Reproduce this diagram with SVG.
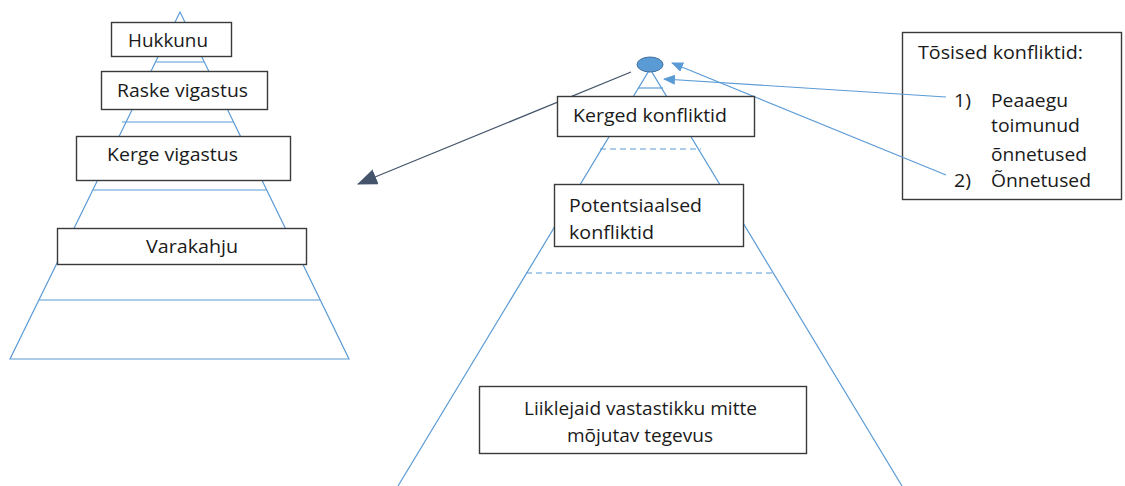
<svg xmlns="http://www.w3.org/2000/svg" width="1125" height="486" viewBox="0 0 1125 486">
<style>
.pl{fill:none;stroke:#5B9BD5;stroke-width:1.2}
.ds{fill:none;stroke:#5B9BD5;stroke-width:1.2;stroke-dasharray:6 4}
.bx{fill:#fff;stroke:#3a3a3a;stroke-width:1.4}
.t{font-family:"Open Sans","Liberation Sans",sans-serif;font-size:17.5px;fill:#1a1a1a}
.cg{fill:none;stroke:#44546A;stroke-width:1.3}
.cb{fill:none;stroke:#5B9BD5;stroke-width:1.2}
</style>
<defs>
<marker id="ag" markerUnits="userSpaceOnUse" viewBox="0 0 20 16" markerWidth="20" markerHeight="16" refX="19" refY="8" orient="auto">
<path d="M0,0 L20,8 L0,16 z" fill="#44546A"/>
</marker>
<marker id="ab" markerUnits="userSpaceOnUse" viewBox="0 0 12 10" markerWidth="12" markerHeight="10" refX="11" refY="5" orient="auto">
<path d="M0,0 L12,5 L0,10 z" fill="#5B9BD5"/>
</marker>
</defs>
<rect width="1125" height="486" fill="#fff"/>
<g id="pyramid-left">
<polygon class="pl" points="180,12 10,359 349,359"/>
<line class="pl" x1="156" y1="62" x2="204" y2="62"/>
<line class="pl" x1="122" y1="122" x2="234" y2="122"/>
<line class="pl" x1="93" y1="190" x2="267" y2="190"/>
<line class="pl" x1="39" y1="300" x2="320" y2="300"/>
</g>
<g id="pyramid-right">
<polyline class="pl" points="398,486 650,69 902,486"/>
<line class="pl" x1="638" y1="88" x2="663" y2="88"/>
<line class="ds" x1="600" y1="149" x2="701" y2="149"/>
<line class="ds" x1="526" y1="273" x2="774" y2="273"/>
</g>
<g id="tosised-konfliktid">
<rect class="bx" x="902.5" y="32.5" width="219" height="167"/>
<text class="t" x="918" y="59" textLength="165" lengthAdjust="spacingAndGlyphs">Tõsised konfliktid:</text>
<text class="t" x="954" y="107" textLength="17" lengthAdjust="spacingAndGlyphs">1)</text>
<text class="t" x="991" y="107" textLength="77" lengthAdjust="spacingAndGlyphs">Peaaegu</text>
<text class="t" x="991" y="132" textLength="89" lengthAdjust="spacingAndGlyphs">toimunud</text>
<text class="t" x="991" y="161" textLength="96" lengthAdjust="spacingAndGlyphs">õnnetused</text>
<text class="t" x="954" y="187" textLength="17" lengthAdjust="spacingAndGlyphs">2)</text>
<text class="t" x="991" y="187" textLength="100" lengthAdjust="spacingAndGlyphs">Õnnetused</text>
</g>
<g id="connectors">
<line class="cg" x1="631" y1="72" x2="358" y2="184" marker-end="url(#ag)"/>
<line class="cb" x1="946" y1="97" x2="664" y2="79" marker-end="url(#ab)"/>
<line class="cb" x1="946" y1="175" x2="672" y2="63" marker-end="url(#ab)"/>
</g>
<g id="top-point">
<ellipse cx="650" cy="64.5" rx="13" ry="7.5" fill="#5B9BD5" stroke="#41719C" stroke-width="1"/>
</g>
<g id="hukkunu">
<rect class="bx" x="111.5" y="22.5" width="120" height="34"/>
<text class="t" x="128" y="47" textLength="80" lengthAdjust="spacingAndGlyphs">Hukkunu</text>
</g>
<g id="raske-vigastus">
<rect class="bx" x="101.5" y="71.5" width="166" height="38"/>
<text class="t" x="117" y="97" textLength="131" lengthAdjust="spacingAndGlyphs">Raske vigastus</text>
</g>
<g id="kerge-vigastus">
<rect class="bx" x="76.5" y="136.5" width="214" height="44"/>
<text class="t" x="107" y="161" textLength="131" lengthAdjust="spacingAndGlyphs">Kerge vigastus</text>
</g>
<g id="varakahju">
<rect class="bx" x="57.5" y="228.5" width="249" height="36"/>
<text class="t" x="146" y="253" textLength="92" lengthAdjust="spacingAndGlyphs">Varakahju</text>
</g>
<g id="kerged-konfliktid">
<rect class="bx" x="557.5" y="96.5" width="197" height="40"/>
<text class="t" x="573" y="122" textLength="154" lengthAdjust="spacingAndGlyphs">Kerged konfliktid</text>
</g>
<g id="potentsiaalsed-konfliktid">
<rect class="bx" x="554.5" y="184.5" width="189" height="62"/>
<text class="t" x="569" y="212" textLength="133" lengthAdjust="spacingAndGlyphs">Potentsiaalsed</text>
<text class="t" x="569" y="239" textLength="85" lengthAdjust="spacingAndGlyphs">konfliktid</text>
</g>
<g id="liiklejaid">
<rect class="bx" x="479.5" y="386.5" width="327" height="67"/>
<text class="t" x="524" y="415" textLength="233" lengthAdjust="spacingAndGlyphs">Liiklejaid vastastikku mitte</text>
<text class="t" x="567" y="442" textLength="146" lengthAdjust="spacingAndGlyphs">mõjutav tegevus</text>
</g>
</svg>
